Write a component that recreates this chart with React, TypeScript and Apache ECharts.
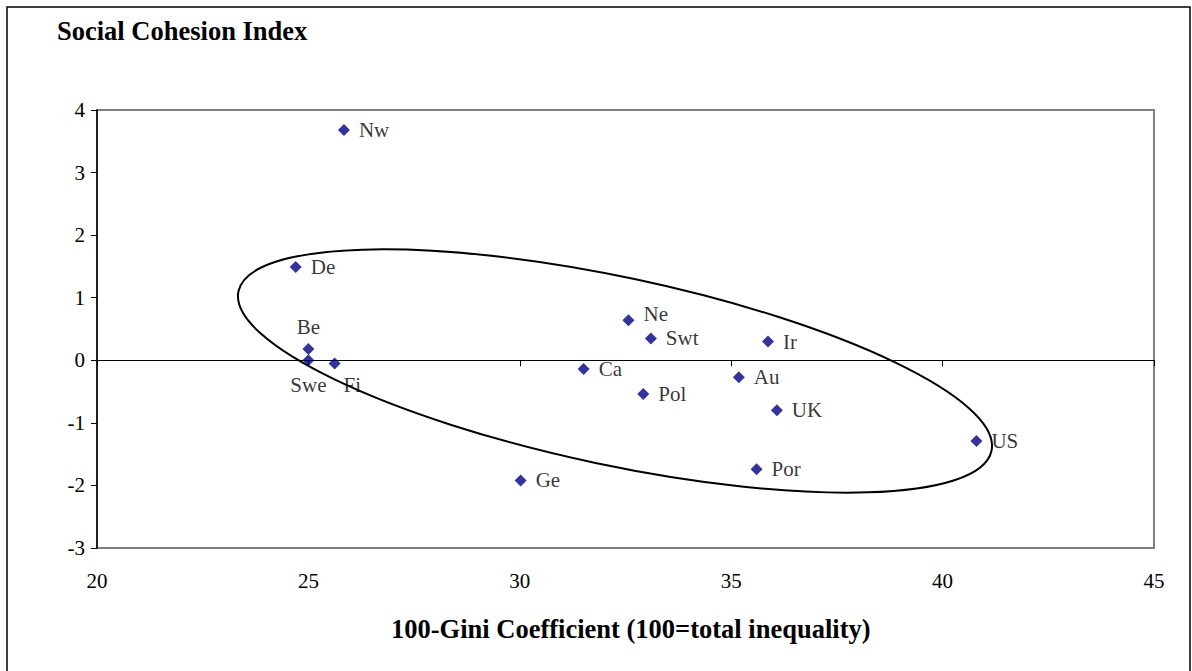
import React, { useEffect, useRef } from "react";
import * as echarts from "echarts";

const countries = ["Nw", "De", "Be", "Swe", "Fi", "Ca", "Ne", "Swt", "Pol", "Ir", "Au", "UK", "US", "Por", "Ge"];
const giniValues = [25.84, 24.7, 25.0, 25.0, 25.62, 31.51, 32.57, 33.1, 32.92, 35.87, 35.18, 36.08, 40.8, 35.6, 30.02];
const cohesionValues = [3.68, 1.49, 0.18, 0.0, -0.05, -0.14, 0.64, 0.35, -0.54, 0.3, -0.27, -0.8, -1.29, -1.74, -1.92];
const xTicks = [20, 25, 30, 35, 40, 45];
const yTicks = [-3, -2, -1, 0, 1, 2, 3, 4];

const labelPlacement: Record<string, { position: any; offset?: number[] }> = {
  Be: { position: "top", offset: [0, -1] },
  Swe: { position: "bottom", offset: [0, 3] },
  Fi: { position: "right", offset: [-2, 22] },
  Ne: { position: "right", offset: [4, -6] },
  US: { position: "right", offset: [4, 0] },
};

export default function App() {
  const ref = useRef<HTMLDivElement>(null);
  useEffect(() => {
    document.body.style.margin = "0";
    const chart = echarts.init(ref.current!, null, { renderer: "svg" });
    const font = "'Liberation Serif', 'Times New Roman', serif";
    const data = countries.map((c, i) => {
      const p = labelPlacement[c] || { position: "right", offset: [4, 0] };
      return {
        name: c,
        value: [giniValues[i], cohesionValues[i]],
        label: { position: p.position, offset: p.offset },
      };
    });
    chart.setOption({
      animation: false,
      backgroundColor: "#fff",
      textStyle: { fontFamily: font },
      grid: {
        left: 97,
        top: 110,
        width: 1057,
        height: 438,
        show: true,
        borderColor: "#808080",
        borderWidth: 2,
        backgroundColor: "transparent",
      },
      xAxis: [
        {
          type: "value",
          min: xTicks[0],
          max: xTicks[xTicks.length - 1],
          interval: 5,
          position: "bottom",
          axisLine: { show: true, onZero: true, lineStyle: { color: "#000", width: 1 } },
          axisTick: { show: true, inside: false, length: 6, lineStyle: { color: "#000" } },
          axisLabel: { show: false },
          splitLine: { show: false },
        },
        {
          type: "value",
          min: xTicks[0],
          max: xTicks[xTicks.length - 1],
          interval: 5,
          position: "bottom",
          axisLine: { show: false, onZero: false },
          axisTick: { show: false },
          axisLabel: { show: true, margin: 22, color: "#000", fontSize: 21, fontFamily: font },
          splitLine: { show: false },
        },
      ],
      yAxis: {
        type: "value",
        min: yTicks[0],
        max: yTicks[yTicks.length - 1],
        interval: 1,
        axisLine: { show: true, onZero: false, lineStyle: { color: "#000", width: 1.5 } },
        axisTick: { show: true, length: 6, lineStyle: { color: "#000" } },
        axisLabel: { color: "#000", fontSize: 21, margin: 12, fontFamily: font },
        splitLine: { show: false },
      },
      graphic: [
        {
          type: "rect",
          shape: { x: 7, y: 7, width: 1183, height: 680 },
          style: { fill: "none", stroke: "#000", lineWidth: 1.5 },
          silent: true,
        },
        {
          type: "text",
          left: 57,
          top: 17,
          style: { text: "Social Cohesion Index", font: `bold 26.5px ${font}`, fill: "#000" },
        },
        {
          type: "text",
          left: 391,
          top: 615,
          style: { text: "100-Gini Coefficient (100=total inequality)", font: `bold 26.5px ${font}`, fill: "#000" },
        },
        {
          type: "ellipse",
          x: 615,
          y: 371,
          rotation: -0.209,
          shape: { cx: 0, cy: 0, rx: 385, ry: 94 },
          style: { fill: "none", stroke: "#000", lineWidth: 2 },
          silent: true,
        },
      ],
      series: [
        {
          type: "scatter",
          xAxisIndex: 0,
          symbol: "diamond",
          symbolSize: 12,
          itemStyle: { color: "#000080" },
          label: {
            show: true,
            formatter: "{b}",
            color: "#000",
            fontSize: 21,
            fontFamily: font,
          },
          data,
        },
      ],
    });
    return () => chart.dispose();
  }, []);
  return <div ref={ref} style={{ width: 1192, height: 671 }} />;
}
